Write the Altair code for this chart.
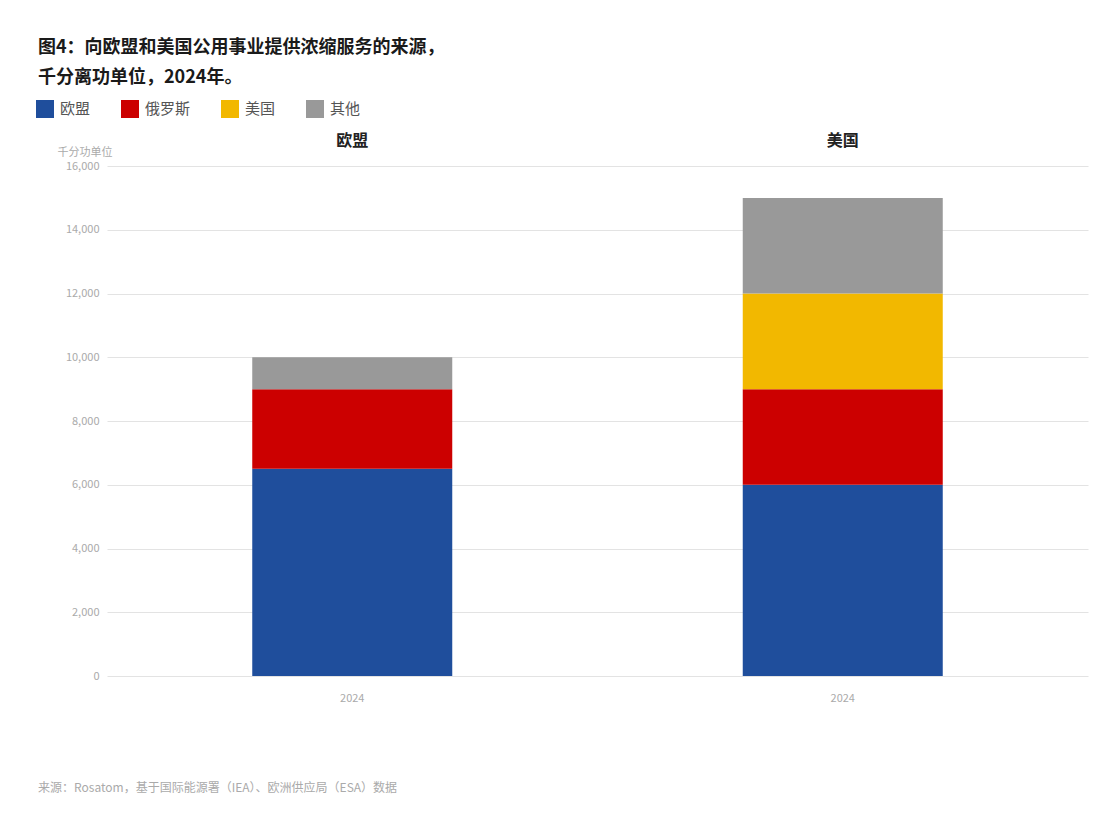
import altair as alt
import pandas as pd

regions = ["欧盟", "美国"]
sources = ["欧盟", "俄罗斯", "美国", "其他"]
eu_values = [6500, 2500, 0, 1000]
us_values = [6000, 3000, 3000, 3000]
colors = ["#1f4e9c", "#cc0000", "#f2b800", "#999999"]
y_ticks = [0, 2000, 4000, 6000, 8000, 10000, 12000, 14000, 16000]
year_label = "2024"
title_lines = ["图4：向欧盟和美国公用事业提供浓缩服务的来源，", "千分离功单位，2024年。"]
y_title = "千分功单位"
source_note = "来源：Rosatom，基于国际能源署（IEA）、欧洲供应局（ESA）数据"

FONT = "Noto Sans CJK SC"

rows = []
for region, vals in zip(regions, [eu_values, us_values]):
    for i, (s, v) in enumerate(zip(sources, vals)):
        rows.append({"region": region, "source": s, "value": v, "order": i})
df = pd.DataFrame(rows)

bars = alt.Chart(df).mark_bar(size=200).encode(
    x=alt.X("region:N", sort=regions,
            scale=alt.Scale(paddingInner=0, paddingOuter=0),
            axis=alt.Axis(title=None, labelExpr=f"'{year_label}'", labelAngle=0,
                          labelColor="#aaaaaa", labelFontSize=11, labelFont=FONT,
                          labelPadding=16, ticks=False, domain=False, grid=False)),
    y=alt.Y("value:Q", stack="zero",
            scale=alt.Scale(domain=[0, 16000], nice=False),
            axis=alt.Axis(values=y_ticks, labelExpr="format(datum.value, ',.0f')",
                          title=y_title, titleAngle=0,
                          titleAlign="left", titleBaseline="middle", titleX=-50, titleY=-14,
                          titleFont=FONT, titleFontSize=11, titleFontWeight="normal",
                          titleColor="#aaaaaa", labelColor="#aaaaaa", labelFontSize=11,
                          labelFont=FONT, labelPadding=8, ticks=False, domain=False,
                          gridColor="#e3e3e3", gridWidth=1)),
    color=alt.Color("source:N", sort=sources,
                    scale=alt.Scale(domain=sources, range=colors),
                    legend=alt.Legend(title=None, orient="none", direction="horizontal",
                                      legendX=-71, legendY=-66, symbolType="square",
                                      symbolSize=324, symbolStrokeWidth=0, symbolOpacity=1,
                                      labelFont=FONT, labelFontSize=15, labelColor="#555555",
                                      columnPadding=30, labelOffset=6)),
    order=alt.Order("order:Q", sort="ascending"),
)

header_df = pd.DataFrame({"region": regions})
headers = alt.Chart(header_df).mark_text(
    font=FONT, fontSize=16, fontWeight="bold", color="#222222", baseline="middle"
).encode(
    x=alt.X("region:N", sort=regions),
    y=alt.value(-25),
    text="region:N",
)

note_df = pd.DataFrame({"t": [source_note]})
note = alt.Chart(note_df).mark_text(
    font=FONT, fontSize=12, color="#aaaaaa", align="left", baseline="middle"
).encode(
    x=alt.value(-69),
    y=alt.value(622),
    text="t:N",
)

chart = alt.layer(bars, headers, note).properties(
    width=981,
    height=510,
    autosize=alt.AutoSizeParams(type="none"),
    padding={"left": 107, "top": 166, "right": 15, "bottom": 149},
    title=alt.TitleParams(title_lines, anchor="start", frame="group", dx=-69, dy=-13,
                          font=FONT, fontSize=18, fontWeight="bold", color="#1a1a1a",
                          lineHeight=30, offset=0),
    background="white",
).configure_view(stroke=None)

chart.save("out.html", embed_options={"renderer": "svg", "actions": False})
